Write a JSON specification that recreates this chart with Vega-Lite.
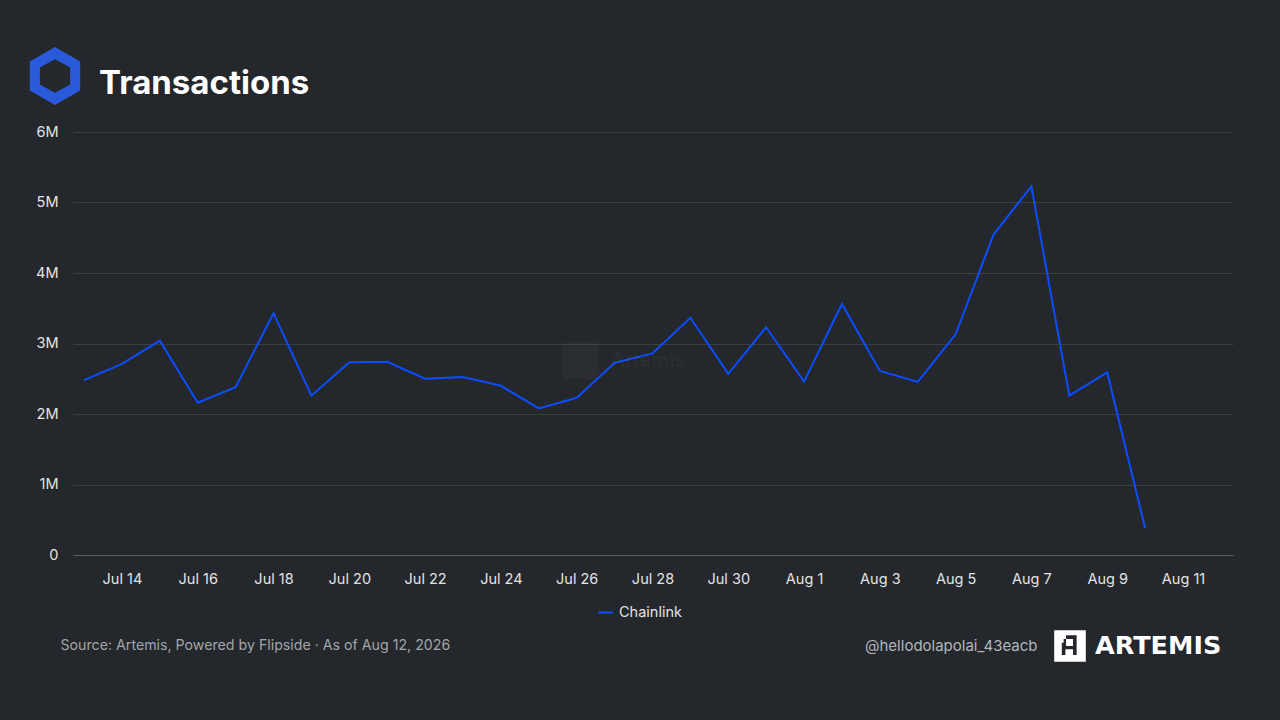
{
  "$schema": "https://vega.github.io/schema/vega-lite/v6.json",
  "width": 1160,
  "height": 423,
  "autosize": "none",
  "padding": {"left": 73, "top": 132, "right": 47, "bottom": 165},
  "background": "#24272c",
  "title": {
    "text": "Transactions",
    "anchor": "start",
    "frame": "group",
    "dx": 26,
    "dy": 58,
    "fontSize": 33,
    "fontWeight": 700,
    "font": "Inter",
    "color": "#ffffff"
  },
  "data": {
    "values": [
      {"date": "2026-07-13T00:00:00", "value": 2480000},
      {"date": "2026-07-14T00:00:00", "value": 2710000},
      {"date": "2026-07-15T00:00:00", "value": 3040000},
      {"date": "2026-07-16T00:00:00", "value": 2160000},
      {"date": "2026-07-17T00:00:00", "value": 2380000},
      {"date": "2026-07-18T00:00:00", "value": 3430000},
      {"date": "2026-07-19T00:00:00", "value": 2260000},
      {"date": "2026-07-20T00:00:00", "value": 2735000},
      {"date": "2026-07-21T00:00:00", "value": 2740000},
      {"date": "2026-07-22T00:00:00", "value": 2500000},
      {"date": "2026-07-23T00:00:00", "value": 2525000},
      {"date": "2026-07-24T00:00:00", "value": 2400000},
      {"date": "2026-07-25T00:00:00", "value": 2080000},
      {"date": "2026-07-26T00:00:00", "value": 2230000},
      {"date": "2026-07-27T00:00:00", "value": 2725000},
      {"date": "2026-07-28T00:00:00", "value": 2860000},
      {"date": "2026-07-29T00:00:00", "value": 3365000},
      {"date": "2026-07-30T00:00:00", "value": 2570000},
      {"date": "2026-07-31T00:00:00", "value": 3230000},
      {"date": "2026-08-01T00:00:00", "value": 2460000},
      {"date": "2026-08-02T00:00:00", "value": 3560000},
      {"date": "2026-08-03T00:00:00", "value": 2610000},
      {"date": "2026-08-04T00:00:00", "value": 2455000},
      {"date": "2026-08-05T00:00:00", "value": 3130000},
      {"date": "2026-08-06T00:00:00", "value": 4545000},
      {"date": "2026-08-07T00:00:00", "value": 5230000},
      {"date": "2026-08-08T00:00:00", "value": 2260000},
      {"date": "2026-08-09T00:00:00", "value": 2590000},
      {"date": "2026-08-10T00:00:00", "value": 380000}
    ]
  },
  "layer": [
    {
      "mark": {"type": "line", "strokeWidth": 2, "strokeJoin": "miter"},
      "encoding": {
        "x": {
          "field": "date",
          "type": "temporal",
          "scale": {
            "domain": [
              {"year": 2026, "month": "jul", "date": 12, "hours": 17},
              {"year": 2026, "month": "aug", "date": 12, "hours": 7, "minutes": 40}
            ]
          },
          "axis": {
            "orient": "bottom",
            "values": [
              {"year": 2026, "month": "jul", "date": 14},
              {"year": 2026, "month": "jul", "date": 16},
              {"year": 2026, "month": "jul", "date": 18},
              {"year": 2026, "month": "jul", "date": 20},
              {"year": 2026, "month": "jul", "date": 22},
              {"year": 2026, "month": "jul", "date": 24},
              {"year": 2026, "month": "jul", "date": 26},
              {"year": 2026, "month": "jul", "date": 28},
              {"year": 2026, "month": "jul", "date": 30},
              {"year": 2026, "month": "aug", "date": 1},
              {"year": 2026, "month": "aug", "date": 3},
              {"year": 2026, "month": "aug", "date": 5},
              {"year": 2026, "month": "aug", "date": 7},
              {"year": 2026, "month": "aug", "date": 9},
              {"year": 2026, "month": "aug", "date": 11}
            ],
            "format": "%b %-d",
            "labelFontSize": 14.5,
            "labelColor": "#e2e3e5",
            "labelPadding": 17,
            "ticks": false,
            "grid": false,
            "domain": true,
            "domainColor": "#5b5e64",
            "domainWidth": 1,
            "title": "Source: Artemis, Powered by Flipside · As of Aug 12, 2026",
            "titleX": -13,
            "titleY": 90,
            "titleAlign": "left",
            "titleBaseline": "middle",
            "titleFontSize": 14.2,
            "titleFontWeight": 400,
            "titleColor": "#a3a5a9"
          }
        },
        "y": {
          "field": "value",
          "type": "quantitative",
          "scale": {"domain": [0, 6000000], "nice": false},
          "axis": {
            "orient": "left",
            "values": [0, 1000000, 2000000, 3000000, 4000000, 5000000, 6000000],
            "labelExpr": "datum.value == 0 ? '0' : (datum.value / 1000000) + 'M'",
            "labelFontSize": 14.5,
            "labelColor": "#e2e3e5",
            "labelPadding": 15,
            "ticks": false,
            "domain": false,
            "grid": true,
            "gridColor": "#3a3d43",
            "gridWidth": 1,
            "title": null
          }
        },
        "color": {
          "datum": "Chainlink",
          "type": "nominal",
          "scale": {"range": ["#0b4dff"]},
          "legend": {
            "title": null,
            "orient": "none",
            "legendX": 524,
            "legendY": 472,
            "symbolType": "stroke",
            "symbolStrokeWidth": 2,
            "symbolSize": 220,
            "labelFontSize": 14.5,
            "labelColor": "#e2e3e5",
            "labelOffset": 5
          }
        }
      }
    },
    {
      "mark": {"type": "line", "strokeOpacity": 0},
      "encoding": {
        "x": {"field": "date", "type": "temporal", "axis": null},
        "y": {
          "field": "value",
          "type": "quantitative",
          "axis": {
            "orient": "right",
            "labels": false,
            "ticks": false,
            "domain": false,
            "grid": false,
            "title": "@hellodolapolai_43eacb",
            "titleAngle": 0,
            "titleX": -196,
            "titleY": 513,
            "titleAlign": "right",
            "titleBaseline": "middle",
            "titleFontSize": 15,
            "titleFontWeight": 400,
            "titleColor": "#b4b6ba"
          }
        }
      }
    },
    {
      "transform": [{"filter": "false"}],
      "mark": {"type": "point", "filled": true, "color": "#2a5ada", "opacity": 1, "strokeWidth": 0},
      "encoding": {
        "shape": {
          "datum": "Chainlink logo",
          "type": "nominal",
          "scale": {"range": ["M0,-1L0.87,-0.5L0.87,0.5L0,1L-0.87,0.5L-0.87,-0.5ZM0,-0.58L-0.52,-0.29L-0.52,0.29L0,0.58L0.52,0.29L0.52,-0.29Z"]},
          "legend": {
            "title": null,
            "orient": "none",
            "legendX": -47,
            "legendY": -85,
            "symbolSize": 3364,
            "symbolFillColor": "#2a5ada",
            "symbolStrokeWidth": 0,
            "symbolOpacity": 1,
            "labelExpr": "''"
          }
        }
      }
    },
    {
      "transform": [{"filter": "false"}],
      "mark": {"type": "square", "filled": true, "opacity": 1, "strokeWidth": 0},
      "encoding": {
        "fill": {
          "datum": "ARTEMIS",
          "type": "nominal",
          "scale": {"range": ["#ffffff"]},
          "legend": {
            "title": null,
            "orient": "none",
            "legendX": 981,
            "legendY": 498,
            "symbolType": "M-1,-1L1,-1L1,1L-1,1ZM-0.25,-0.68L-0.25,-0.45L-0.4,-0.45L-0.4,-0.21L-0.52,-0.21L-0.52,0.57L-0.29,0.57L-0.29,0.21L0.19,0.21L0.19,0.57L0.42,0.57L0.42,-0.68ZM-0.25,-0.45L0.19,-0.45L0.19,0L-0.25,0Z",
            "symbolSize": 1000,
            "symbolStrokeWidth": 0,
            "symbolOpacity": 1,
            "labelFont": "DejaVu Sans",
            "labelFontSize": 25.5,
            "labelFontWeight": 700,
            "labelColor": "#ffffff",
            "labelOffset": 9
          }
        }
      }
    },
    {
      "transform": [{"filter": "false"}],
      "mark": {"type": "square", "filled": true, "fill": "#ffffff", "opacity": 1, "strokeWidth": 0},
      "encoding": {
        "stroke": {
          "datum": "Artemis",
          "type": "nominal",
          "scale": {"range": ["#ffffff"]},
          "legend": {
            "title": null,
            "orient": "none",
            "legendX": 489,
            "legendY": 210,
            "symbolType": "M-0.8,-1L0.8,-1Q1,-1 1,-0.8L1,0.8Q1,1 0.8,1L-0.8,1Q-1,1 -1,0.8L-1,-0.8Q-1,-1 -0.8,-1Z",
            "symbolSize": 1330,
            "symbolFillColor": "#ffffff",
            "symbolStrokeWidth": 0,
            "symbolOpacity": 0.03,
            "labelFontSize": 19.5,
            "labelFontWeight": 600,
            "labelColor": "#ffffff",
            "labelOpacity": 0.05,
            "labelOffset": 12
          }
        }
      }
    }
  ],
  "resolve": {"axis": {"x": "independent", "y": "independent"}},
  "config": {
    "font": "Inter",
    "view": {"stroke": null}
  }
}
